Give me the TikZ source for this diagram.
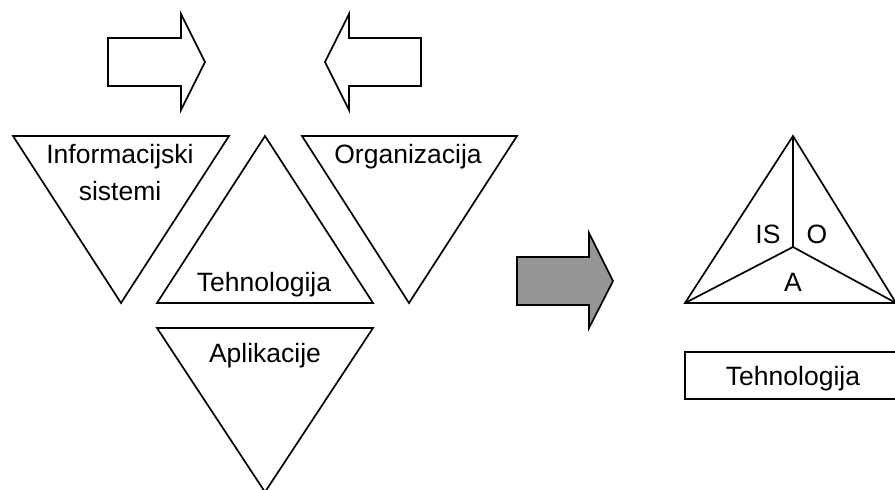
\documentclass[tikz,border=0pt]{standalone}
\usepackage{fontspec}
\setmainfont{Liberation Sans}
\begin{document}
\begin{tikzpicture}[x=1pt,y=-1pt,
  outline/.style={draw=black,line width=1.7pt,line join=miter},
  label/.style={anchor=base,inner sep=0pt,font=\fontsize{26.5}{37}\selectfont},
  greyfill/.style={fill={rgb,255:red,150;green,150;blue,150}}]
\useasboundingbox (0,0) rectangle (895,490);

% block arrows at the top
\draw[outline] (108,38) -- (181,38) -- (181,14) -- (205,62) -- (181,110)
  -- (181,86) -- (108,86) -- cycle;
\draw[outline] (421,38) -- (349,38) -- (349,14) -- (325,62) -- (349,110)
  -- (349,86) -- (421,86) -- cycle;

% four triangles
\draw[outline] (13,136) -- (229,136) -- (121,303) -- cycle;
\draw[outline] (265,136) -- (373,303) -- (157,303) -- cycle;
\draw[outline] (302,136) -- (517,136) -- (409,303) -- cycle;
\draw[outline] (157,328) -- (373,328) -- (265,492) -- cycle;

\node[label] (is) at (120,163) {Informacijski};
\node[label] (is2) at (120,200) {sistemi};
\node[label] (teh) at (264,291) {Tehnologija};
\node[label] (org) at (408,163) {Organizacija};
\node[label] (apl) at (265,362) {Aplikacije};

% grey transition arrow
\draw[outline,greyfill] (517,257) -- (589,257) -- (589,233) -- (613,281)
  -- (589,328) -- (589,305) -- (517,305) -- cycle;

% combined triangle
\coordinate (top) at (793,136);
\coordinate (bl) at (685,303);
\coordinate (br) at (896,303);
\coordinate (ctr) at (793,247);
\draw[outline] (top) -- (br) -- (bl) -- cycle;
\draw[outline] (top) -- (ctr);
\draw[outline] (bl) -- (ctr) -- (br);
\node[label] (lis) at (768,243) {IS};
\node[label] (lo) at (817,243) {O};
\node[label] (la) at (793,291) {A};

% technology base box
\draw[outline] (685,352) rectangle (897,399);
\node[label] (tbox) at (793,385) {Tehnologija};
\end{tikzpicture}
\end{document}
